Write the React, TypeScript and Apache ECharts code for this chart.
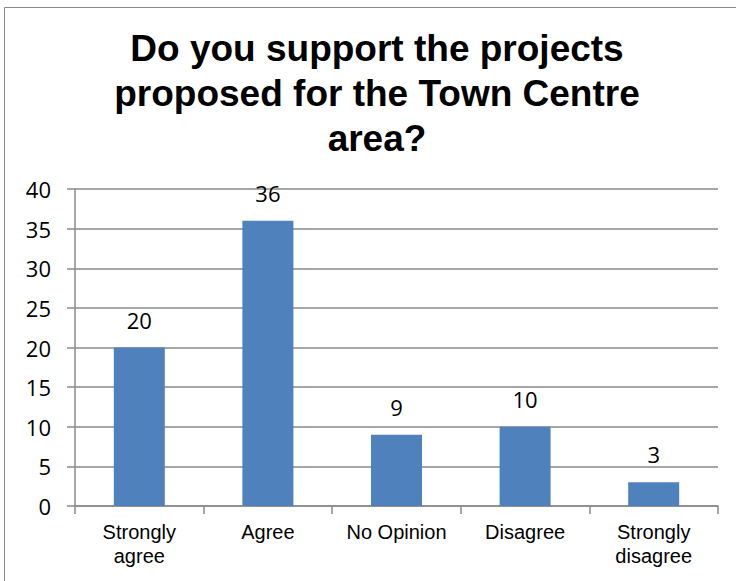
import React, { useEffect, useRef } from "react";
import * as echarts from "echarts";

const titleText = "Do you support the projects\nproposed for the Town Centre\narea?";
const categories = ["Strongly\nagree", "Agree", "No Opinion", "Disagree", "Strongly\ndisagree"];
const values = [20, 36, 9, 10, 3];
const yMin = 0;
const yMax = 40;
const yStep = 5;

export default function App() {
  const ref = useRef<HTMLDivElement>(null);
  useEffect(() => {
    if (!ref.current) return;
    const chart = echarts.init(ref.current, undefined, { renderer: "svg" });
    chart.setOption({
      animation: false,
      backgroundColor: "#ffffff",
      graphic: [
        {
          type: "rect",
          shape: { x: 4.5, y: 7.5, width: 780, height: 620 },
          style: { fill: "none", stroke: "#8a8a8a", lineWidth: 1 },
          silent: true,
          z: 100,
        },
      ],
      title: {
        text: titleText,
        left: 372,
        top: 21,
        textAlign: "center",
        textStyle: {
          fontFamily: "Liberation Sans, Arial, sans-serif",
          fontWeight: "bold",
          fontSize: 37,
          lineHeight: 45,
          color: "#000000",
        },
      },
      grid: { left: 75, right: 18, top: 189, bottom: 75, containLabel: false },
      xAxis: {
        type: "category",
        data: categories,
        axisLine: { show: true, lineStyle: { color: "#8a8a8a", width: 1.5 } },
        axisTick: { show: true, length: 8, lineStyle: { color: "#8a8a8a", width: 1.5 } },
        axisLabel: {
          margin: 14,
          fontFamily: "Liberation Sans, Arial, sans-serif",
          fontSize: 20,
          lineHeight: 24,
          color: "#000000",
          interval: 0,
        },
      },
      yAxis: {
        type: "value",
        min: yMin,
        max: yMax,
        interval: yStep,
        axisLine: { show: true, lineStyle: { color: "#8a8a8a", width: 1.5 } },
        axisTick: { show: true, length: 8, lineStyle: { color: "#8a8a8a", width: 1.5 } },
        splitLine: { show: true, lineStyle: { color: "#8a8a8a", width: 1.5 } },
        axisLabel: {
          margin: 24,
          fontFamily: "Open Sans, sans-serif",
          fontSize: 22,
          color: "#000000",
        },
      },
      series: [
        {
          type: "bar",
          data: values,
          barWidth: 51,
          itemStyle: { color: "#4f81bd" },
          label: {
            show: true,
            position: "top",
            distance: 17,
            fontFamily: "Open Sans, sans-serif",
            fontSize: 22,
            color: "#000000",
          },
        },
      ],
    });
    return () => chart.dispose();
  }, []);
  return (
    <div
      ref={ref}
      style={{ position: "fixed", left: 0, top: 0, width: 736, height: 581 }}
    />
  );
}
